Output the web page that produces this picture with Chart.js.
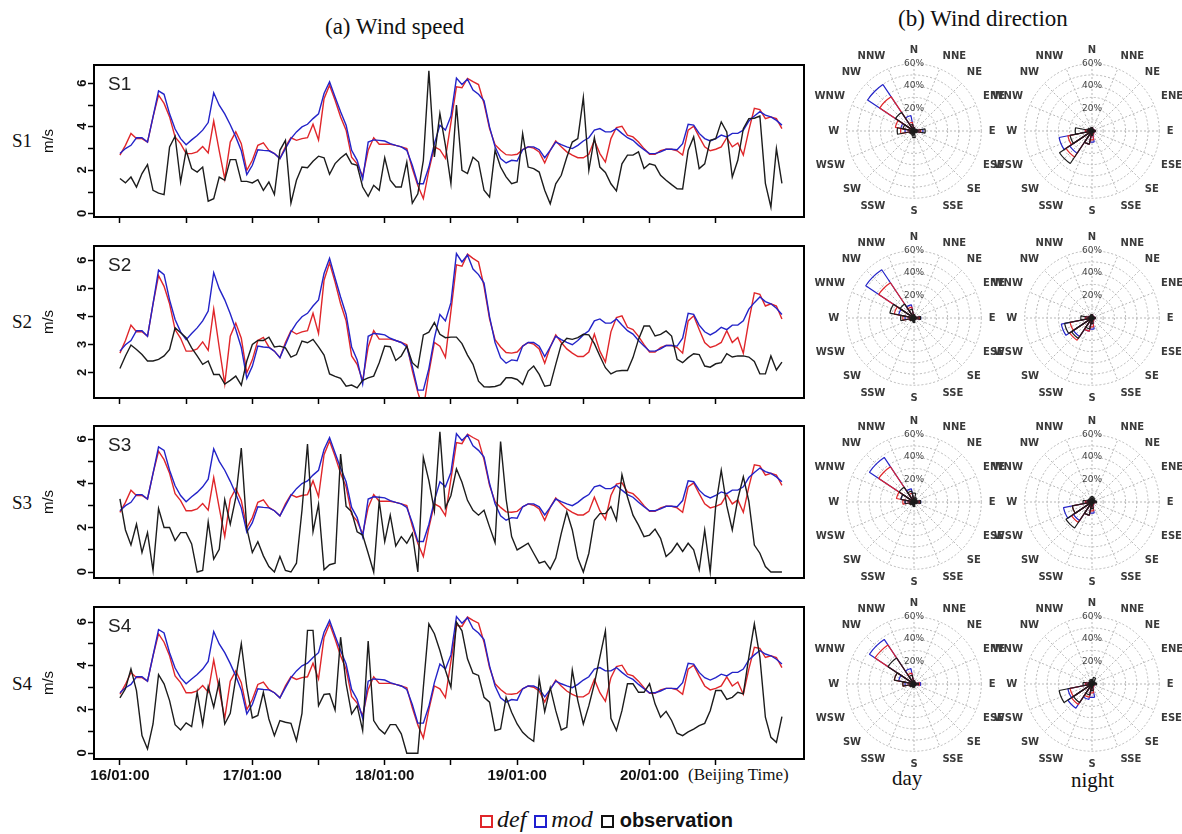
<!DOCTYPE html>
<html>
<head>
<meta charset="utf-8">
<script src="https://cdn.jsdelivr.net/npm/chart.js@4.4.1/dist/chart.umd.min.js"></script>
<style>
  body { margin: 0; background: #fff; width: 1182px; height: 834px; position: relative; overflow: hidden; }
  canvas { position: absolute; }
  .t { position: absolute; white-space: nowrap; color: #111; }
  .serif { font-family: "Liberation Serif", serif; }
  .sans { font-family: "Liberation Sans", Arial, sans-serif; }
  .box { display: inline-block; width: 9px; height: 9px; border: 2.5px solid; vertical-align: middle; }
</style>
</head>
<body>

<div class="t serif" style="left:325px; top:14px; font-size:23px;">(a) Wind speed</div>
<div class="t serif" style="left:898px; top:6px; font-size:23px;">(b) Wind direction</div>

<div class="t serif" style="left:12px; top:130px; font-size:19px;">S1</div>
<div class="t serif" style="left:12px; top:311px; font-size:19px;">S2</div>
<div class="t serif" style="left:12px; top:492px; font-size:19px;">S3</div>
<div class="t serif" style="left:12px; top:673px; font-size:19px;">S4</div>

<div class="t serif" style="left:688px; top:765px; font-size:17px;">(Beijing Time)</div>
<div class="t serif" style="left:892px; top:766px; font-size:21px;">day</div>
<div class="t serif" style="left:1071px; top:768px; font-size:21px;">night</div>

<div class="t" style="left:480px; top:806px; font-size:24px;">
  <span class="box" style="border-color:#e0262a"></span><span class="serif" style="font-style:italic; margin:0 8px 0 4px;">def</span><span class="box" style="border-color:#2020d0"></span><span class="serif" style="font-style:italic; margin:0 8px 0 4px;">mod</span><span class="box" style="border-color:#111"></span><span class="sans" style="font-weight:bold; font-size:20px; margin-left:6px;">observation</span>
</div>

<script>
// hourly samples from 16/01:00 (hour 0) to 21/01:00 (hour 120)
const hours = Array.from({ length: 121 }, (_, i) => i);
const xTicks = [0, 12, 24, 36, 48, 60, 72, 84, 96, 108];
const dayTicks = [0, 24, 48, 72, 96];
const dayNames = ['16/01:00', '17/01:00', '18/01:00', '19/01:00', '20/01:00'];

// model runs (same at all four stations)
const defSpeed = [
  2.7, 3.15, 3.7, 3.46, 3.46, 3.3, 4.46, 5.46, 5.08, 4.46,
  3.54, 3.23, 2.77, 2.77, 2.85, 3.1, 2.8, 4.27, 2.9, 1.6,
  3.3, 3.77, 3.23, 2.0, 2.46, 3.15, 3.26, 2.92, 2.77, 2.54,
  3.08, 3.5, 3.38, 3.46, 3.5, 4.12, 3.4, 5.3, 5.92, 5.23,
  4.46, 3.85, 2.6, 2.3, 1.72, 2.92, 3.5, 3.2, 3.2, 3.2,
  3.15, 3.08, 3.0, 2.08, 1.3, 0.7, 2.0, 3.08, 2.95, 2.55,
  4.2, 5.85, 5.8, 6.23, 6.08, 5.95, 5.08, 3.92, 3.18, 2.92,
  2.72, 2.7, 2.74, 2.95, 3.08, 3.02, 2.85, 2.34, 2.92, 3.35,
  3.08, 2.85, 2.7, 2.58, 2.58, 2.74, 3.38, 2.77, 2.38, 3.46,
  3.97, 4.03, 3.62, 3.54, 3.3, 3.0, 2.74, 2.74, 2.9, 2.97,
  2.97, 2.9, 2.7, 3.85, 4.03, 3.54, 3.08, 2.9, 2.97, 3.08,
  3.5, 3.08, 3.26, 2.7, 3.85, 4.85, 4.8, 4.38, 4.46, 4.38,
  3.92
];
const modSpeed = [
  2.77, 3.0, 3.15, 3.5, 3.5, 3.3, 4.46, 5.66, 5.5, 4.6,
  3.9, 3.46, 3.18, 3.4, 3.6, 3.85, 4.2, 5.57, 5.0, 4.6,
  4.1, 3.54, 2.9, 1.8, 2.23, 2.95, 2.92, 2.9, 2.77, 2.54,
  3.0, 3.46, 3.77, 4.0, 4.12, 4.38, 4.6, 5.54, 6.08, 5.38,
  4.7, 4.08, 2.92, 2.46, 1.6, 3.3, 3.4, 3.38, 3.35, 3.23,
  3.15, 3.08, 2.92, 2.23, 1.38, 1.38, 2.15, 3.23, 4.08, 3.85,
  4.5, 6.25, 5.95, 6.2, 5.7, 5.5, 5.2, 4.0, 3.08, 2.54,
  2.34, 2.46, 2.43, 2.95, 3.08, 3.08, 2.95, 2.58, 2.92, 3.3,
  3.18, 3.08, 3.0, 3.15, 3.35, 3.5, 3.85, 3.92, 3.77, 3.77,
  3.92, 3.7, 3.5, 3.38, 3.15, 2.95, 2.77, 2.77, 2.85, 2.97,
  2.97, 2.95, 3.23, 4.12, 4.08, 3.7, 3.46, 3.35, 3.46, 3.62,
  3.54, 3.7, 3.7, 3.85, 4.27, 4.5, 4.7, 4.54, 4.46, 4.3,
  4.08
];

// observations
const obsS1 = [
  1.62, 1.42, 1.69, 1.23, 1.85, 2.26, 1.08, 0.95, 0.88, 3.08,
  3.57, 1.46, 2.92, 2.08, 1.92, 2.15, 0.58, 0.69, 1.69, 1.54,
  2.49, 2.49, 1.49, 1.49, 1.42, 1.57, 1.08, 1.46, 0.89, 2.92,
  3.38, 0.49, 1.54, 2.15, 2.12, 2.42, 2.65, 2.58, 1.82, 2.31,
  2.57, 2.77, 2.31, 2.23, 1.23, 0.8, 1.31, 1.08, 2.58, 1.54,
  1.23, 1.23, 2.38, 0.49, 0.92, 2.46, 6.58, 2.62, 4.62, 3.15,
  1.38, 5.0, 2.0, 1.85, 2.6, 2.38, 1.08, 0.77, 2.92, 2.15,
  1.7, 1.38, 1.46, 3.69, 2.15, 2.08, 1.92, 1.08, 0.46, 1.38,
  1.77, 2.6, 3.3, 3.46, 5.35, 2.0, 3.5, 2.15, 1.9, 1.38,
  1.05, 2.3, 2.7, 2.7, 2.85, 2.08, 2.3, 2.23, 1.77, 1.54,
  1.34, 1.15, 1.14, 2.92, 3.54, 2.08, 2.3, 3.38, 3.46, 4.23,
  3.77, 1.69, 2.46, 3.92, 4.38, 4.4, 4.5, 1.4, 0.3, 3.0,
  1.4
];
const obsS2 = [
  2.15, 2.6, 2.99, 2.83, 2.65, 2.42, 2.42, 2.48, 2.6, 2.83,
  3.6, 3.43, 3.25, 2.89, 2.6, 2.3, 2.42, 1.94, 1.94, 1.6,
  1.73, 1.88, 1.56, 2.42, 3.01, 3.15, 3.15, 3.27, 2.92, 2.95,
  2.89, 2.56, 2.65, 3.13, 3.07, 3.19, 2.92, 2.63, 1.96, 1.87,
  1.8, 1.52, 1.56, 1.46, 1.73, 1.82, 1.88, 2.36, 2.95, 2.93,
  2.44, 2.6, 2.95, 2.36, 2.18, 3.35, 3.45, 3.79, 3.37, 3.25,
  3.27, 3.27, 3.04, 2.63, 2.3, 1.7, 1.5, 1.49, 1.51, 1.58,
  1.82, 1.82, 1.76, 1.58, 2.06, 2.24, 1.94, 1.52, 1.56, 2.3,
  3.01, 3.23, 3.19, 3.25, 3.37, 3.35, 3.04, 2.6, 2.18, 1.96,
  2.06, 2.08, 2.08, 2.54, 3.19, 3.67, 3.67, 3.31, 3.37, 3.49,
  3.31, 2.48, 2.36, 2.54, 2.68, 2.65, 2.24, 2.2, 2.32, 2.36,
  2.68, 2.56, 2.6, 2.6, 2.56, 2.4, 1.96, 1.96, 2.6, 2.1,
  2.38
];
const obsS3 = [
  3.31, 1.9, 1.22, 2.16, 0.88, 1.78, 0.07, 2.87, 2.01, 2.01,
  1.42, 1.78, 1.78, 1.27, 0, 0.07, 2.27, 0.58, 1.03, 3.27,
  2.16, 3.36, 5.6, 1.97, 0.88, 1.37, 0.73, 0.25, 0, 0.7,
  0.07, 0, 0.4, 2.79, 5.78, 1.82, 3.06, 0.1, 0.33, 0.4,
  5.33, 2.97, 2.72, 1.82, 1.67, 0.85, 0, 3.21, 1.37, 2.57,
  1.18, 1.6, 1.3, 1.75, 0, 5.18, 4.13, 2.76, 6.34, 2.9,
  3.46, 4.66, 4.06, 3.24, 2.79, 2.57, 2.79, 2.04, 1.33, 5.9,
  3.3, 1.6, 1.0, 1.15, 1.3, 0.85, 0.4, 0.48, 0.13, 0.63,
  1.75, 2.72, 1.9, 0.63, 0, 0.85, 2.34, 2.64, 2.64, 2.96,
  2.34, 4.4, 3.39, 2.57, 2.12, 1.6, 1.67, 1.94, 1.52, 0.7,
  0.93, 1.3, 0.93, 1.3, 1.0, 0.1, 1.9, 0, 3.0, 4.6,
  3.0, 1.9, 3.3, 4.3, 3.2, 1.22, 0.85, 0.25, 0, 0,
  0
];
const obsS4 = [
  2.53, 2.95, 3.86, 2.87, 0.81, 0.2, 1.34, 3.6, 3.18, 2.41,
  1.31, 1.07, 1.39, 1.22, 2.79, 1.31, 3.05, 2.11, 3.3, 1.34,
  1.83, 3.45, 5.01, 3.02, 1.62, 1.73, 2.79, 1.57, 0.81, 1.5,
  1.42, 1.37, 0.58, 1.83, 5.62, 5.62, 2.18, 2.69, 2.72, 1.98,
  5.31, 3.18, 1.8, 2.18, 1.04, 5.13, 1.5, 1.11, 0.89, 1.31,
  1.31, 0.89, 0, 0, 0, 3.02, 5.92, 5.47, 4.7, 3.8,
  3.02, 6.0, 5.6, 4.32, 3.66, 3.56, 2.56, 2.34, 1.04, 1.11,
  2.56, 1.88, 1.34, 0.96, 0.72, 0.55, 3.4, 1.9, 3.0, 1.95,
  1.07, 1.19, 3.8, 2.41, 1.34, 2.18, 3.18, 4.4, 5.6, 1.6,
  1.04, 1.95, 3.18, 3.18, 2.79, 2.79, 3.18, 2.26, 1.65, 1.92,
  1.5, 0.92, 0.81, 0.98, 1.11, 1.27, 1.37, 1.95, 2.87, 2.87,
  2.47, 2.56, 2.79, 2.72, 4.4, 5.92, 4.4, 1.65, 0.73, 0.5,
  1.68
];

// wind rose frequencies (%), directions clockwise from N
const dirs = ['N', 'NNE', 'NE', 'ENE', 'E', 'ESE', 'SE', 'SSE', 'S', 'SSW', 'SW', 'WSW', 'W', 'WNW', 'NW', 'NNW'];
const s1DayObs = [3, 2, 2, 3, 10, 3, 2, 2, 6, 4, 3, 4, 15, 10, 20, 6];
const s1DayDef = [3, 2, 1, 2, 6, 2, 1, 1, 2, 2, 2, 4, 12, 17, 37, 8];
const s1DayMod = [3, 2, 1, 2, 8, 2, 1, 1, 2, 2, 2, 3, 8, 12, 50, 14];
const s1NightObs = [3, 2, 2, 2, 3, 2, 2, 2, 4, 12, 35, 20, 15, 4, 3, 3];
const s1NightDef = [3, 2, 2, 2, 3, 2, 2, 3, 8, 12, 28, 22, 6, 3, 2, 2];
const s1NightMod = [3, 2, 2, 2, 3, 2, 2, 3, 10, 12, 24, 30, 6, 3, 2, 2];
const s2DayObs = [3, 2, 2, 2, 6, 2, 2, 2, 4, 3, 3, 4, 12, 22, 15, 8];
const s2DayDef = [3, 2, 1, 2, 5, 2, 1, 1, 2, 2, 2, 4, 10, 18, 38, 10];
const s2DayMod = [3, 2, 1, 2, 6, 2, 1, 1, 2, 2, 2, 3, 8, 14, 52, 12];
const s2NightObs = [3, 2, 2, 2, 3, 2, 2, 2, 5, 10, 22, 25, 10, 3, 2, 3];
const s2NightDef = [3, 2, 2, 2, 3, 2, 2, 3, 8, 12, 24, 20, 6, 3, 2, 2];
const s2NightMod = [3, 2, 2, 2, 3, 2, 2, 3, 10, 12, 20, 28, 6, 3, 2, 2];
const s3DayObs = [8, 4, 3, 3, 6, 3, 2, 2, 4, 3, 3, 4, 8, 12, 16, 10];
const s3DayDef = [3, 2, 1, 2, 5, 2, 1, 1, 2, 2, 2, 4, 10, 16, 38, 8];
const s3DayMod = [3, 2, 1, 2, 6, 2, 1, 1, 2, 2, 2, 3, 8, 12, 48, 12];
const s3NightObs = [5, 4, 3, 3, 4, 2, 2, 2, 6, 12, 28, 18, 8, 4, 3, 4];
const s3NightDef = [3, 2, 2, 2, 3, 2, 2, 3, 8, 12, 22, 18, 6, 3, 2, 2];
const s3NightMod = [3, 2, 2, 2, 3, 2, 2, 3, 10, 12, 20, 26, 6, 3, 2, 2];
const s4DayObs = [3, 2, 2, 2, 4, 2, 2, 2, 3, 3, 3, 4, 10, 18, 28, 8];
const s4DayDef = [3, 2, 1, 2, 5, 2, 1, 1, 2, 2, 2, 4, 10, 18, 42, 10];
const s4DayMod = [3, 2, 1, 2, 6, 2, 1, 1, 2, 2, 2, 3, 8, 14, 48, 14];
const s4NightObs = [4, 6, 3, 3, 4, 2, 2, 2, 6, 10, 20, 30, 8, 3, 3, 4];
const s4NightDef = [3, 2, 2, 2, 3, 2, 2, 3, 8, 12, 22, 20, 6, 3, 2, 2];
const s4NightMod = [3, 2, 2, 2, 3, 2, 2, 3, 12, 14, 26, 22, 6, 3, 2, 2];

const RED = '#e0262a', BLUE = '#2323c8', BLACK = '#1c1c1c';

// black frame round the plot area
const frame = {
  id: 'frame',
  afterDraw(chart) {
    const { ctx, chartArea: a } = chart;
    ctx.save();
    ctx.strokeStyle = '#000';
    ctx.lineWidth = 2;
    ctx.strokeRect(a.left, a.top, a.width, a.height);
    ctx.restore();
  }
};

function pts(vals) {
  return vals.map((v, i) => ({ x: hours[i], y: v }));
}

function addCanvas(left, top, w, h) {
  const c = document.createElement('canvas');
  c.width = w; c.height = h;
  c.style.left = left + 'px'; c.style.top = top + 'px';
  document.body.appendChild(c);
  return c;
}

function speedChart(name, obs, boxTop, boxBottom, yMin, yMax, yTicks, yLabels, showX) {
  const xH = showX ? 32 : 10;
  const c = addCanvas(40, boxTop - 4, 768, boxBottom - boxTop + 4 + xH);
  const line = (label, data, color) => ({
    label, data: pts(data), borderColor: color, borderWidth: 1.4,
    pointRadius: 0, tension: 0, fill: false
  });
  new Chart(c, {
    type: 'line',
    data: {
      datasets: [
        line('observation', obs, BLACK),
        line('mod', modSpeed, BLUE),
        line('def', defSpeed, RED)
      ]
    },
    options: {
      responsive: false,
      animation: false,
      layout: { padding: { left: 0, right: 4, top: 4, bottom: 0 } },
      plugins: { legend: { display: false }, tooltip: { enabled: false } },
      scales: {
        x: {
          type: 'linear', min: -4.7, max: 124,
          afterBuildTicks: s => { s.ticks = xTicks.map(v => ({ value: v })); },
          afterFit: s => { s.height = xH; s.paddingLeft = 0; s.paddingRight = 0; },
          ticks: {
            display: showX, autoSkip: false, maxRotation: 0, padding: 2,
            callback: v => { const k = dayTicks.indexOf(v); return k >= 0 ? dayNames[k] : ''; },
            font: { family: 'Liberation Sans', size: 15, weight: 'bold' }, color: '#111'
          },
          grid: { drawOnChartArea: false, tickLength: 6, tickColor: '#000', tickWidth: 1.5 },
          border: { display: false }
        },
        y: {
          min: yMin, max: yMax,
          afterBuildTicks: s => { s.ticks = yTicks.map(v => ({ value: v })); },
          afterFit: s => { s.width = 54; s.paddingTop = 0; s.paddingBottom = 0; },
          ticks: {
            padding: 6, minRotation: 90, maxRotation: 90, labelOffset: -4,
            callback: v => yLabels.includes(v) ? String(v) : '',
            font: { family: 'Liberation Sans', size: 13, weight: 'bold' }, color: '#111'
          },
          grid: { drawOnChartArea: false, tickLength: 6, tickColor: '#000', tickWidth: 1.5 },
          border: { display: false },
          title: { display: true, text: 'm/s', padding: 0, color: '#111', font: { family: 'Liberation Sans', size: 15 } }
        }
      }
    },
    plugins: [frame]
  });
  const tag = document.createElement('div');
  tag.className = 't sans';
  tag.style.cssText = 'left:108px; top:' + (boxTop + 8) + 'px; font-size:19px; color:#222;';
  tag.textContent = name;
  document.body.appendChild(tag);
}

speedChart('S1', obsS1, 65, 217, -0.15, 6.85, [0, 1, 2, 3, 4, 5, 6], [0, 2, 4, 6], false);
speedChart('S2', obsS2, 246, 398, 1.1, 6.52, [2, 3, 4, 5, 6], [2, 3, 4, 5, 6], false);
speedChart('S3', obsS3, 426, 578, -0.27, 6.6, [0, 1, 2, 3, 4, 5, 6], [0, 2, 4, 6], false);
speedChart('S4', obsS4, 607, 759, -0.26, 6.69, [0, 1, 2, 3, 4, 5, 6], [0, 2, 4, 6], true);

// wind roses: a radar chart gives rings, spokes and labels; a polar-area chart on top gives the wedges
function rose(cx, cy, obs, def, mod) {
  const W = 200, H = 182;
  const base = addCanvas(0, 0, W, H);
  const over = addCanvas(0, 0, W, H);
  const grid = new Chart(base, {
    type: 'radar',
    data: { labels: dirs, datasets: [] },
    options: {
      responsive: false,
      animation: false,
      plugins: { legend: { display: false }, tooltip: { enabled: false } },
      scales: {
        r: {
          min: 0, max: 60, startAngle: 0,
          ticks: {
            stepSize: 10, showLabelBackdrop: false, color: '#444',
            callback: v => (v > 0 && v % 20 === 0) ? v + '%' : '',
            font: { family: 'DejaVu Sans', size: 9 }
          },
          grid: { circular: true, color: '#b8b8b8' },
          border: { dash: [2, 2] },
          angleLines: { color: '#b8b8b8', borderDash: [2, 2] },
          pointLabels: { padding: 1, color: '#3a3a3a', font: { family: 'DejaVu Sans', size: 10, weight: 'bold' } }
        }
      }
    }
  });
  const r = grid.scales.r;
  const R = r.drawingArea;
  [base, over].forEach(c => {
    c.style.left = (cx - r.xCenter) + 'px';
    c.style.top = (cy - r.yCenter) + 'px';
  });
  const wedge = (label, data, color) => ({
    label, data, borderColor: color, borderWidth: 1.2, backgroundColor: 'rgba(0,0,0,0)'
  });
  new Chart(over, {
    type: 'polarArea',
    data: { labels: dirs, datasets: [wedge('observation', obs, BLACK), wedge('def', def, RED), wedge('mod', mod, BLUE)] },
    options: {
      responsive: false,
      animation: false,
      layout: { padding: { left: r.xCenter - R, right: W - r.xCenter - R, top: r.yCenter - R, bottom: H - r.yCenter - R } },
      plugins: { legend: { display: false }, tooltip: { enabled: false } },
      scales: {
        r: {
          min: 0, max: 60, startAngle: -11.25,
          ticks: { display: false },
          grid: { display: false },
          angleLines: { display: false },
          pointLabels: { display: false }
        }
      }
    }
  });
}

rose(914, 131, s1DayObs, s1DayDef, s1DayMod);
rose(1092, 131, s1NightObs, s1NightDef, s1NightMod);
rose(914, 318, s2DayObs, s2DayDef, s2DayMod);
rose(1092, 318, s2NightObs, s2NightDef, s2NightMod);
rose(914, 502, s3DayObs, s3DayDef, s3DayMod);
rose(1092, 502, s3NightObs, s3NightDef, s3NightMod);
rose(914, 684, s4DayObs, s4DayDef, s4DayMod);
rose(1092, 684, s4NightObs, s4NightDef, s4NightMod);
</script>
</body>
</html>
